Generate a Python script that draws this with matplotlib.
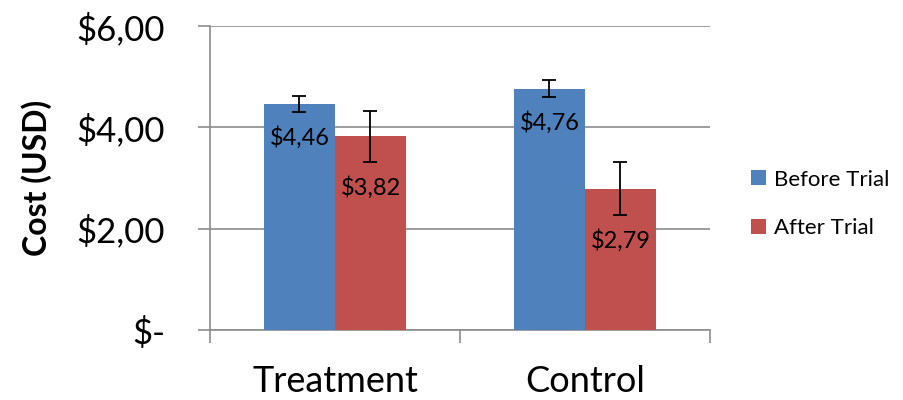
import matplotlib
matplotlib.use("Agg")
import matplotlib.pyplot as plt
import numpy as np
from matplotlib.patches import Patch

groups = ["Treatment", "Control"]
series_names = ["Before Trial", "After Trial"]
before = [4.46, 4.76]
after = [3.82, 2.79]
before_err = [0.16, 0.17]
after_err = [0.51, 0.52]
y_ticks = [0, 2, 4, 6]
y_tick_labels = ["$-", "$2,00", "$4,00", "$6,00"]

colors = ["#4F81BD", "#C0504D"]
grid_color = "#8C8C8C"

plt.rcParams['font.family'] = ['Lato', 'DejaVu Sans']

fig = plt.figure(figsize=(9.04, 4.0), dpi=100)
ax = fig.add_axes([210/904, 70/400, 500/904, 304/400])

x = np.arange(len(groups))
w = 0.284
vals = [before, after]
errs = [before_err, after_err]
offsets = [-w/2, w/2]
for i in range(2):
    bars = ax.bar(x + offsets[i], vals[i], width=w, color=colors[i], zorder=3,
                  label=series_names[i], linewidth=0)
    ax.errorbar(x + offsets[i], vals[i], yerr=errs[i], fmt='none', ecolor='black',
                elinewidth=1.3, capsize=5, capthick=1.3, zorder=4)
    for xi, v, e in zip(x + offsets[i], vals[i], errs[i]):
        lab = "$" + f"{v:.2f}".replace('.', ',')
        ax.annotate(lab, (xi, v - e), xytext=(0, -10), textcoords='offset points',
                    ha='center', va='top', fontsize=17, color='black', zorder=5)

ax.set_xlim(-0.5, 1.5)
ax.set_ylim(0, 6)
ax.set_yticks(y_ticks)
ax.set_yticklabels(y_tick_labels)
ax.set_xticks(x)
ax.set_xticklabels(groups)
ax.set_xticks([-0.5, 0.5, 1.5], minor=True)
ax.tick_params(axis='x', which='major', length=0, pad=25, labelsize=26)
ax.tick_params(axis='x', which='minor', length=9.5, width=1.2, color=grid_color, direction='out')
ax.tick_params(axis='y', length=8.5, width=1.2, color=grid_color, direction='out', pad=24, labelsize=25)
for lbl in ax.get_yticklabels():
    lbl.set_horizontalalignment('right')

ax.grid(axis='y', color=grid_color, linewidth=1.2, zorder=0)
for s in ['top', 'right']:
    ax.spines[s].set_visible(False)
for s in ['left', 'bottom']:
    ax.spines[s].set_color(grid_color)
    ax.spines[s].set_linewidth(1.2)

ax.set_ylabel("Cost (USD)", fontsize=23, fontweight='bold')
ax.yaxis.set_label_coords(-0.316, 0.5)

handles = [Patch(facecolor=c, edgecolor='none') for c in colors]
leg = fig.legend(handles, series_names, loc='center left', bbox_to_anchor=(742/904, 1 - 204/400),
                 frameon=False, fontsize=16, handlelength=0.68, handleheight=0.68,
                 handletextpad=0.35, labelspacing=1.3, borderpad=0.2, borderaxespad=0.2)

fig.savefig("out.png", dpi=100)
